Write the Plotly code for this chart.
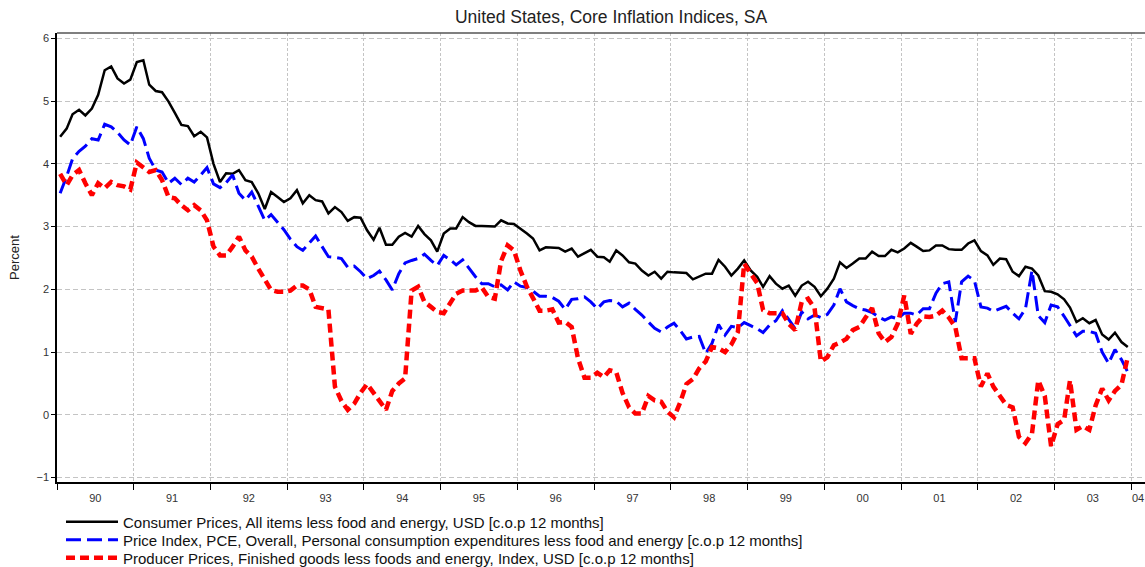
import pandas as pd
import plotly.graph_objects as go

# Monthly observations, Jan 1990 .. Dec 2003 (plotted at mid-month)
months = pd.date_range("1990-01-01", periods=168, freq="MS") + pd.Timedelta(days=15)

cpi_core = [
    4.43, 4.56, 4.79, 4.86, 4.77, 4.88, 5.10, 5.49, 5.55, 5.36, 5.28, 5.34,
    5.62, 5.65, 5.26, 5.16, 5.14, 4.99, 4.81, 4.62, 4.60, 4.44, 4.51, 4.42,
    4.00, 3.71, 3.85, 3.84, 3.90, 3.74, 3.71, 3.53, 3.28, 3.55, 3.47, 3.39,
    3.45, 3.58, 3.37, 3.50, 3.42, 3.40, 3.21, 3.31, 3.23, 3.09, 3.15, 3.14,
    2.94, 2.79, 2.98, 2.71, 2.71, 2.84, 2.90, 2.84, 3.01, 2.88, 2.78, 2.60,
    2.89, 2.97, 2.97, 3.15, 3.07, 3.01, 3.01, 3.00, 3.00, 3.10, 3.05, 3.04,
    2.97, 2.89, 2.81, 2.62, 2.67, 2.67, 2.66, 2.60, 2.65, 2.52, 2.57, 2.63,
    2.52, 2.51, 2.44, 2.62, 2.54, 2.43, 2.41, 2.30, 2.22, 2.28, 2.17, 2.28,
    2.27, 2.27, 2.26, 2.16, 2.21, 2.25, 2.25, 2.47, 2.36, 2.22, 2.33, 2.46,
    2.30, 2.20, 2.04, 2.21, 2.09, 2.01, 2.06, 1.90, 2.06, 2.12, 2.04, 1.89,
    2.01, 2.17, 2.43, 2.34, 2.41, 2.49, 2.49, 2.60, 2.53, 2.53, 2.63, 2.59,
    2.65, 2.74, 2.68, 2.61, 2.62, 2.70, 2.70, 2.64, 2.63, 2.63, 2.73, 2.78,
    2.61, 2.54, 2.39, 2.49, 2.48, 2.28, 2.21, 2.36, 2.33, 2.22, 1.97, 1.96,
    1.92, 1.84, 1.71, 1.48, 1.54, 1.46, 1.51, 1.28, 1.20, 1.31, 1.16, 1.08,
]

pce_core = [
    3.53, 3.80, 4.08, 4.20, 4.28, 4.40, 4.38, 4.63, 4.59, 4.50, 4.38, 4.30,
    4.59, 4.40, 4.09, 3.90, 3.87, 3.69, 3.77, 3.67, 3.77, 3.71, 3.82, 3.94,
    3.68, 3.62, 3.70, 3.82, 3.53, 3.42, 3.55, 3.31, 3.10, 3.19, 3.07, 2.95,
    2.80, 2.68, 2.62, 2.73, 2.85, 2.68, 2.52, 2.51, 2.49, 2.35, 2.37, 2.28,
    2.17, 2.22, 2.29, 2.15, 1.99, 2.25, 2.42, 2.46, 2.49, 2.56, 2.46, 2.38,
    2.54, 2.47, 2.39, 2.47, 2.34, 2.20, 2.09, 2.09, 2.04, 2.07, 1.99, 2.12,
    2.05, 2.03, 1.97, 1.89, 1.89, 1.87, 1.81, 1.68, 1.84, 1.85, 1.88, 1.80,
    1.69, 1.80, 1.82, 1.81, 1.72, 1.78, 1.68, 1.59, 1.48, 1.38, 1.32, 1.40,
    1.46, 1.34, 1.21, 1.24, 1.25, 0.98, 1.14, 1.44, 1.27, 1.41, 1.39, 1.47,
    1.42, 1.37, 1.31, 1.43, 1.50, 1.66, 1.52, 1.37, 1.64, 1.53, 1.59, 1.55,
    1.60, 1.75, 2.01, 1.80, 1.74, 1.69, 1.67, 1.63, 1.56, 1.51, 1.56, 1.53,
    1.62, 1.62, 1.59, 1.69, 1.69, 1.94, 2.09, 2.12, 1.48, 2.12, 2.21, 2.14,
    1.72, 1.70, 1.65, 1.69, 1.73, 1.62, 1.53, 1.69, 2.30, 1.58, 1.47, 1.75,
    1.72, 1.57, 1.43, 1.26, 1.33, 1.33, 1.30, 1.00, 0.82, 1.04, 0.88, 0.68,
]

ppi_core = [
    3.84, 3.66, 3.82, 3.90, 3.69, 3.50, 3.69, 3.61, 3.71, 3.66, 3.64, 3.59,
    4.02, 3.93, 3.87, 3.90, 3.74, 3.47, 3.45, 3.34, 3.26, 3.34, 3.26, 3.10,
    2.68, 2.54, 2.54, 2.68, 2.84, 2.62, 2.52, 2.33, 2.16, 1.99, 1.96, 1.96,
    1.98, 2.06, 2.06, 2.00, 1.72, 1.70, 1.68, 0.45, 0.22, 0.08, 0.18, 0.35,
    0.49, 0.35, 0.22, 0.08, 0.38, 0.50, 0.58, 1.98, 2.04, 1.80, 1.72, 1.64,
    1.62, 1.77, 1.93, 1.98, 1.98, 1.98, 2.03, 1.88, 1.85, 2.45, 2.70, 2.62,
    2.30, 2.04, 1.86, 1.66, 1.66, 1.68, 1.47, 1.48, 1.40, 0.90, 0.59, 0.59,
    0.67, 0.60, 0.71, 0.68, 0.35, 0.12, 0.02, 0.02, 0.30, 0.23, 0.21, 0.05,
    -0.04, 0.21, 0.49, 0.57, 0.74, 0.85, 1.08, 1.06, 1.00, 1.12, 1.32, 2.41,
    2.25, 2.10, 1.67, 1.62, 1.62, 1.62, 1.45, 1.35, 1.80, 1.85, 1.70, 0.85,
    0.92, 1.11, 1.15, 1.21, 1.35, 1.40, 1.55, 1.70, 1.30, 1.16, 1.24, 1.45,
    1.90, 1.29, 1.45, 1.57, 1.56, 1.58, 1.66, 1.55, 1.40, 0.90, 0.90, 0.90,
    0.45, 0.66, 0.45, 0.31, 0.16, 0.12, -0.35, -0.45, -0.30, 0.55, 0.30, -0.50,
    -0.15, -0.08, 0.55, -0.24, -0.18, -0.24, 0.15, 0.42, 0.23, 0.38, 0.48, 0.92,
]

series_names = [
    "Consumer Prices, All items less food and energy, USD [c.o.p 12 months]",
    "Price Index, PCE, Overall, Personal consumption expenditures less food and energy [c.o.p 12 months]",
    "Producer Prices, Finished goods less foods and energy, Index, USD [c.o.p 12 months]",
]
year_labels = ["90", "91", "92", "93", "94", "95", "96", "97", "98", "99",
               "00", "01", "02", "03", "04"]
subtitle = "United States, Core Inflation Indices, SA"
y_title = "Percent"

x_start = pd.Timestamp("1990-01-01")
x_end = pd.Timestamp("2004-03-07")

# year boundaries (ticks/grid) and period-centred label positions
year_starts = pd.date_range(x_start, periods=len(year_labels), freq="YS")
label_pos = []
for ys in year_starts:
    ye = min(ys + pd.DateOffset(years=1), x_end)
    label_pos.append(ys + (ye - ys) / 2)

FONT = "Arial, 'Liberation Sans', sans-serif"

fig = go.Figure()
fig.add_trace(go.Scatter(x=months, y=cpi_core, mode="lines", name=series_names[0],
                         line=dict(color="black", width=2.5), legend="legend"))
fig.add_trace(go.Scatter(x=months, y=pce_core, mode="lines", name=series_names[1],
                         line=dict(color="#0000ff", width=3, dash="15px,6px"),
                         legend="legend2"))
fig.add_trace(go.Scatter(x=months, y=ppi_core, mode="lines", name=series_names[2],
                         line=dict(color="#ff0000", width=4.5, dash="9px,5px"),
                         legend="legend3"))
# carrier for the label axis
fig.add_trace(go.Scatter(x=[months[0]], y=[None], xaxis="x2", yaxis="y",
                         showlegend=False, hoverinfo="skip", mode="lines"))

W, H = 1145, 567
L, T, B, R = 57, 33, 482, 1145
plot_h = B - T


def leg_y(ypix):
    return (B - ypix) / plot_h


leg_common = dict(orientation="v", x=(61 - L) / (R - L), xanchor="left",
                  yanchor="middle", font=dict(size=15, family=FONT, color="#111"),
                  bgcolor="rgba(0,0,0,0)", borderwidth=0, itemwidth=52)

fig.update_layout(
    width=W, height=H,
    margin=dict(l=L, r=W - R, t=T, b=H - B, autoexpand=False),
    paper_bgcolor="white", plot_bgcolor="white",
    font=dict(family=FONT, color="#222"),
    title=dict(text=subtitle, x=(611 - L) / (R - L), xref="paper", xanchor="center",
               y=1 - 17 / H, yref="container", yanchor="middle",
               font=dict(size=17.5, family=FONT, color="#222")),
    showlegend=True,
    legend=dict(leg_common, y=leg_y(522)),
    legend2=dict(leg_common, y=leg_y(540)),
    legend3=dict(leg_common, y=leg_y(558)),
    xaxis=dict(type="date", range=[x_start, x_end],
               tickvals=list(year_starts), showticklabels=False,
               ticks="outside", ticklen=6, tickwidth=1, tickcolor="black",
               showline=True, linecolor="black", linewidth=1.5,
               showgrid=True, gridcolor="#c4c4c4", gridwidth=1, griddash="3px,2px",
               zeroline=False, automargin=False),
    xaxis2=dict(type="date", range=[x_start, x_end], overlaying="x", anchor="y",
                side="bottom", tickvals=label_pos, ticktext=year_labels,
                ticks="outside", ticklen=6, tickcolor="rgba(0,0,0,0)",
                showline=False, showgrid=False, zeroline=False,
                tickfont=dict(size=11, color="#333", family=FONT), automargin=False),
    yaxis=dict(range=[-1.07, 6.084], tick0=0, dtick=1,
               ticks="outside", ticklen=4, tickwidth=1, tickcolor="black",
               showline=True, linecolor="black", linewidth=1.5,
               showgrid=True, gridcolor="#c4c4c4", gridwidth=1, griddash="5px,3px",
               zeroline=False, tickfont=dict(size=11, color="#333", family=FONT),
               title=dict(text=y_title, font=dict(size=13, family=FONT, color="#222"),
                          standoff=14),
               automargin=False),
    shapes=[dict(type="line", xref="paper", yref="paper", x0=0, x1=1, y0=1, y1=1,
                 line=dict(color="#555", width=1.5))],
)

fig.write_html(
    "out.html",
    config={"displayModeBar": False},
    post_script="document.body.style.margin='0';document.body.style.overflow='hidden';",
)
